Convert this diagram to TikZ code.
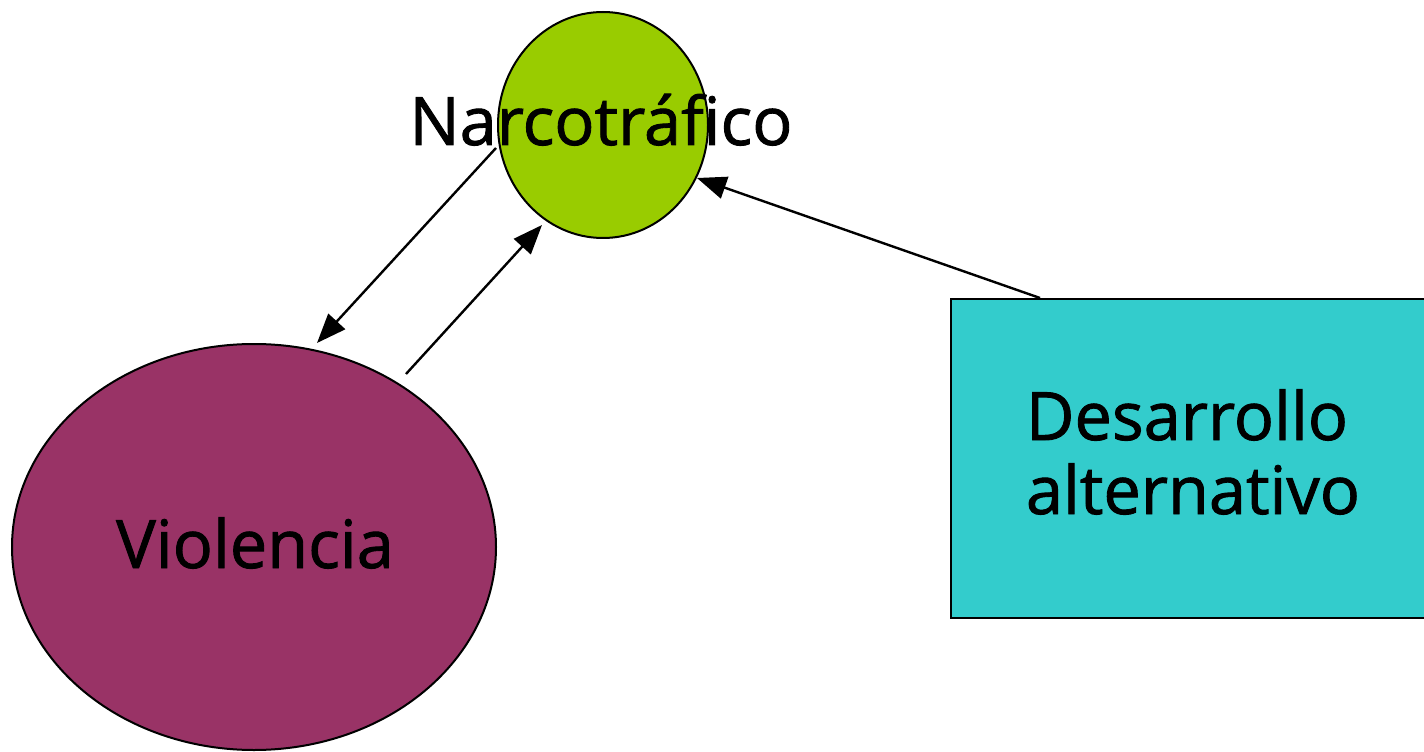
\documentclass[tikz,border=0pt]{standalone}
\usepackage{fontspec}
\setmainfont{Open Sans}[FakeBold=1.3]
\usetikzlibrary{arrows.meta,shapes.geometric}
\definecolor{narco}{HTML}{99CC00}
\definecolor{viol}{HTML}{993366}
\definecolor{desa}{HTML}{33CCCC}
\begin{document}
\begin{tikzpicture}[x=0.75pt,y=-0.75pt,
  shapeline/.style={draw=black,line width=1.5pt},
  lbl/.style={font=\fontsize{50}{60}\selectfont,inner sep=0pt,anchor=base},
  arr/.style={line width=1.8pt,-{Triangle[length=22pt,width=17pt]}}]
\useasboundingbox (0,0) rectangle (1424,752);
\clip (0,0) rectangle (1424,752);
\node[shapeline,ellipse,fill=viol,minimum width=363pt,minimum height=304.5pt,inner sep=0pt] (v) at (254,547) {};
\node[shapeline,ellipse,fill=narco,minimum width=157.5pt,minimum height=169.5pt,inner sep=0pt] (n) at (603,125) {};
\node[shapeline,rectangle,fill=desa,minimum width=361.5pt,minimum height=239pt,inner sep=0pt,anchor=north west] (d) at (950,298) {};
\node[lbl] (nt) at (601,145) {Narcotráfico};
\node[lbl] (vt) at (255,568) {Violencia};
\node[lbl] (d1) at (1187,440) {Desarrollo};
\node[lbl] (d2) at (1193,514) {alternativo};
\draw[arr] ([shift={(-107,23)}]n.center) -- ([shift={(63,-204)}]v.center);
\draw[arr] ([shift={(152,-173)}]v.center) -- ([shift={(-61,100)}]n.center);
\draw[arr] ([shift={(90,0)}]d.north west) -- ([shift={(94,53)}]n.center);
\end{tikzpicture}
\end{document}
